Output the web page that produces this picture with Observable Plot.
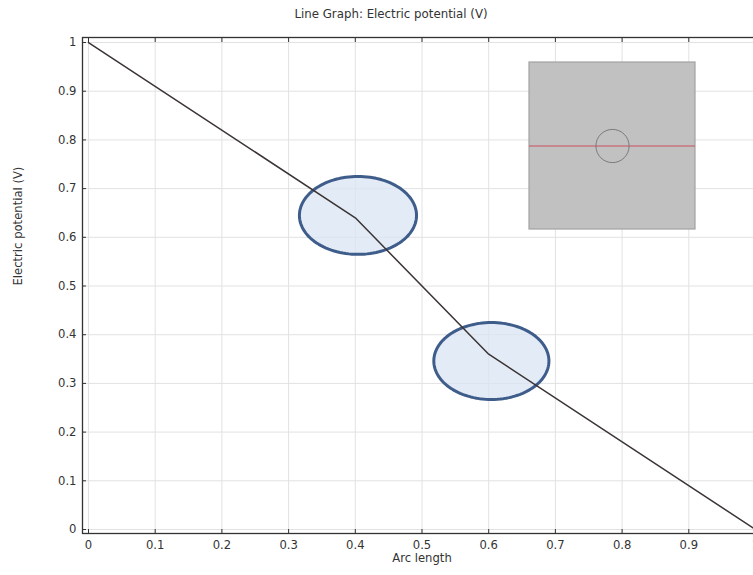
<!DOCTYPE html>
<html><head><meta charset="utf-8">
<script src="https://cdn.jsdelivr.net/npm/d3@7"></script>
<script src="https://cdn.jsdelivr.net/npm/@observablehq/plot@0.6"></script>
<style>
html,body{margin:0;padding:0;overflow:hidden;background:#fff;width:753px;height:575px;}
#wrap{position:relative;width:753px;height:575px;overflow:hidden;font-family:"DejaVu Sans",sans-serif;}
#title{position:absolute;left:0;width:782px;top:7px;text-align:center;font-size:11.8px;color:#333;line-height:14px;}
#main{position:absolute;left:0;top:0;width:771px;height:575px;}
#inset{position:absolute;left:521px;top:54px;width:182px;height:183px;}
svg{max-width:none !important;}
</style></head><body>
<div id="wrap"><div id="main"></div><div id="inset"></div><div id="title">Line Graph: Electric potential (V)</div></div>
<script>
// Data: electric potential along the cut line
const arcLength = [0, 0.4, 0.6, 1];
const potential = [1, 0.64, 0.36, 0];

// Axis ticks
const xTicks = [0, 0.1, 0.2, 0.3, 0.4, 0.5, 0.6, 0.7, 0.8, 0.9, 1];
const xTickLabels = ["0", "0.1", "0.2", "0.3", "0.4", "0.5", "0.6", "0.7", "0.8", "0.9", "1"];
const yTicks = [0, 0.1, 0.2, 0.3, 0.4, 0.5, 0.6, 0.7, 0.8, 0.9, 1];
const yTickLabels = ["0", "0.1", "0.2", "0.3", "0.4", "0.5", "0.6", "0.7", "0.8", "0.9", "1"];

// Highlight ellipses (annotation) in data units
const ellipseCx = [0.404, 0.604];
const ellipseCy = [0.645, 0.346];
const ellipseRx = [0.0878, 0.0863];
const ellipseRy = [0.080, 0.079];

// Inset geometry (unit square, circular inclusion, cut line)
const squareX = [0, 1];
const squareY = [0, 1];
const inclusionCenter = [0.5, 0.5];
const inclusionRadius = 0.1;
const cutLineY = 0.5;

const data = arcLength.map((a, i) => ({a, v: potential[i]}));

const ellipsePts = [];
ellipseCx.forEach((cx, k) => {
  for (let j = 0; j < 120; j++) {
    const t = (j / 120) * 2 * Math.PI;
    ellipsePts.push({k, x: cx + ellipseRx[k] * Math.cos(t), y: ellipseCy[k] + ellipseRy[k] * Math.sin(t)});
  }
});

const main = Plot.plot({
  width: 771, height: 575,
  marginLeft: 82, marginRight: 10, marginTop: 37, marginBottom: 42,
  style: {fontFamily: "DejaVu Sans, sans-serif", fontSize: "11.6px", color: "#333", background: "transparent", overflow: "visible", maxWidth: "none"},
  x: {domain: [-0.009, 1.009]},
  y: {domain: [-0.0082, 1.0103]},
  marks: [
    Plot.gridX(xTicks, {stroke: "#e2e2e2", strokeOpacity: 1}),
    Plot.gridY(yTicks, {stroke: "#e2e2e2", strokeOpacity: 1}),
    Plot.line(ellipsePts, {x: "x", y: "y", z: "k", curve: "linear-closed", fill: "#dae4f3", fillOpacity: 0.75, stroke: "#3f5d8b", strokeWidth: 3}),
    Plot.line(data, {x: "a", y: "v", stroke: "#3b3435", strokeWidth: 1.5}),
    Plot.frame({stroke: "#333", strokeWidth: 1.3}),
    Plot.axisX(xTicks, {anchor: "bottom", tickSize: -4, tickPadding: 11, tickFormat: (d, i) => xTickLabels[i], label: null, stroke: "#333"}),
    Plot.axisX(xTicks, {anchor: "top", tickSize: -4, tickFormat: () => "", label: null, stroke: "#333"}),
    Plot.axisY(yTicks, {anchor: "left", tickSize: -4, tickPadding: 10, tickFormat: (d, i) => yTickLabels[i], label: null, stroke: "#333"}),
    Plot.text(["Arc length"], {text: d => d, frameAnchor: "bottom", dy: 28, fill: "#333"}),
    Plot.text(["Electric potential (V)"], {text: d => d, frameAnchor: "left", dx: -64, rotate: -90, fill: "#333"})
  ]
});
document.getElementById("main").appendChild(main);

const inset = Plot.plot({
  width: 182, height: 183,
  marginLeft: 8, marginRight: 8, marginTop: 8, marginBottom: 8,
  style: {background: "transparent", overflow: "visible", maxWidth: "none"},
  x: {domain: [0, 1], axis: null},
  y: {domain: [0, 1], axis: null},
  r: {type: "linear", domain: [0, 1], range: [0, 166]},
  marks: [
    Plot.rect([{x1: squareX[0], x2: squareX[1], y1: squareY[0], y2: squareY[1]}], {x1: "x1", x2: "x2", y1: "y1", y2: "y2", fill: "#c1c1c1", stroke: "#a2a2a2", strokeWidth: 1.2}),
    Plot.ruleY([cutLineY], {x1: squareX[0], x2: squareX[1], stroke: "#c9505c", strokeWidth: 1.2}),
    Plot.dot([{x: inclusionCenter[0], y: inclusionCenter[1], r: inclusionRadius}], {x: "x", y: "y", r: "r", stroke: "#7a7a7a", fill: "none", strokeWidth: 1})
  ]
});
document.getElementById("inset").appendChild(inset);
</script>
</body></html>
